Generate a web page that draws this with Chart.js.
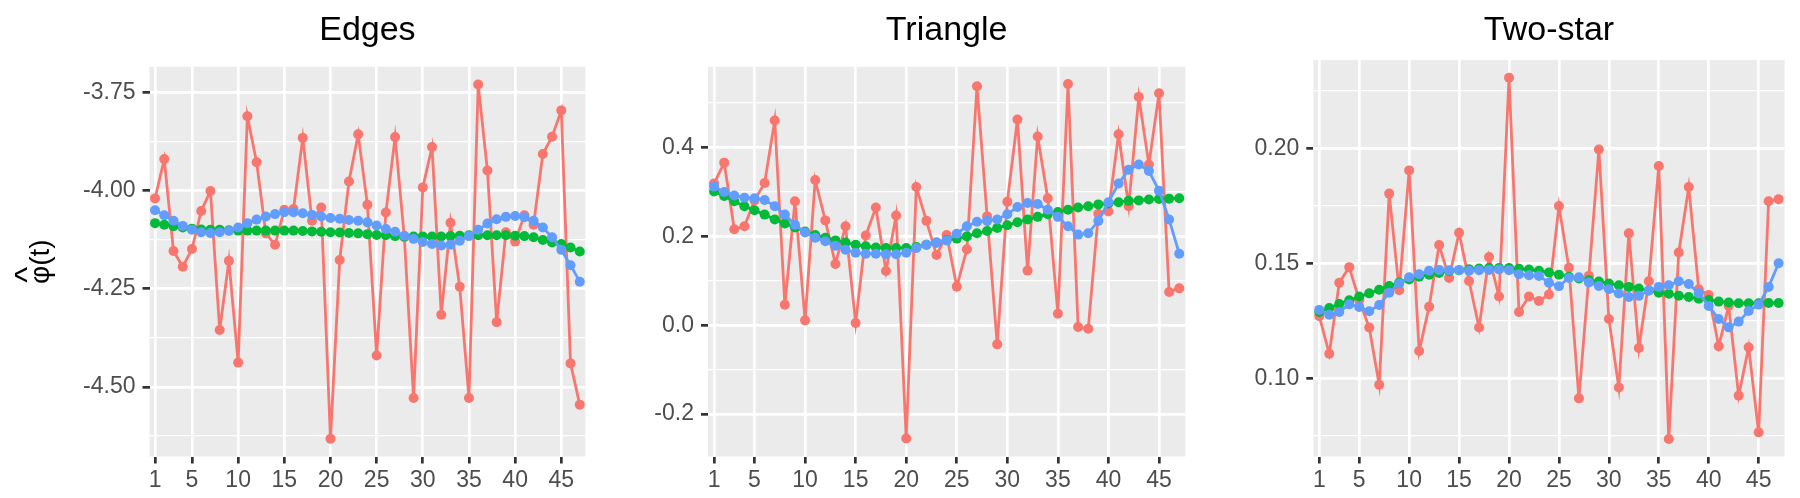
<!DOCTYPE html>
<html>
<head>
<meta charset="utf-8">
<script src="https://cdn.jsdelivr.net/npm/chart.js@4.4.1/dist/chart.umd.min.js"></script>
<style>
  body { margin: 0; background: #fff; }
  #wrap { position: relative; width: 1800px; height: 498px; }
  canvas { position: absolute; top: 0; }
</style>
</head>
<body>
<div id="wrap">
  <canvas id="edges" width="600" height="498" style="left:0px"></canvas>
  <canvas id="triangle" width="600" height="498" style="left:600px"></canvas>
  <canvas id="twostar" width="600" height="498" style="left:1200px"></canvas>
</div>
<script>
// time points 1..47
const timePoints = [1,2,3,4,5,6,7,8,9,10,11,12,13,14,15,16,17,18,19,20,21,22,23,24,25,26,27,28,29,30,31,32,33,34,35,36,37,38,39,40,41,42,43,44,45,46,47];
const xTicks = [1, 5, 10, 15, 20, 25, 30, 35, 40, 45];

// Edges
const edgesRaw = [-4.020,-3.920,-4.154,-4.194,-4.149,-4.052,-4.001,-4.355,-4.179,-4.438,
  -3.811,-3.928,-4.109,-4.138,-4.049,-4.047,-3.866,-4.077,-4.043,-4.632,
  -4.177,-3.977,-3.857,-4.036,-4.420,-4.056,-3.864,-4.119,-4.528,-3.992,
  -3.889,-4.316,-4.082,-4.245,-4.528,-3.730,-3.949,-4.335,-4.106,-4.130,
  -4.063,-4.087,-3.907,-3.863,-3.796,-4.440,-4.545];
const edgesLocal = [-4.050,-4.063,-4.077,-4.090,-4.100,-4.106,-4.108,-4.106,-4.103,-4.094,
  -4.083,-4.074,-4.066,-4.060,-4.055,-4.055,-4.058,-4.062,-4.066,-4.070,
  -4.072,-4.075,-4.077,-4.081,-4.089,-4.098,-4.105,-4.115,-4.123,-4.131,
  -4.136,-4.140,-4.138,-4.128,-4.116,-4.100,-4.084,-4.073,-4.067,-4.065,
  -4.068,-4.077,-4.094,-4.119,-4.151,-4.190,-4.232];
const edgesGlobal = [-4.083,-4.087,-4.091,-4.094,-4.097,-4.099,-4.100,-4.100,-4.101,-4.102,
  -4.102,-4.102,-4.102,-4.102,-4.102,-4.102,-4.103,-4.104,-4.105,-4.106,
  -4.107,-4.108,-4.109,-4.111,-4.113,-4.114,-4.116,-4.117,-4.117,-4.117,
  -4.117,-4.117,-4.116,-4.115,-4.114,-4.114,-4.114,-4.114,-4.114,-4.115,
  -4.116,-4.119,-4.126,-4.132,-4.136,-4.145,-4.155];
const edgesTicks = [-4.50, -4.25, -4.00, -3.75];
const edgesTickLabels = ['-4.50', '-4.25', '-4.00', '-3.75'];
const edgesMinor = [-4.625, -4.375, -4.125, -3.875];

// Triangle
const triRaw = [0.319,0.366,0.216,0.223,0.281,0.320,0.461,0.046,0.279,0.011,
  0.327,0.236,0.138,0.223,0.005,0.202,0.265,0.122,0.247,-0.255,
  0.311,0.235,0.158,0.203,0.087,0.171,0.538,0.245,-0.043,0.278,
  0.463,0.123,0.425,0.286,0.026,0.543,-0.004,-0.008,0.251,0.256,
  0.430,0.268,0.514,0.362,0.522,0.075,0.083];
const triLocal = [0.312,0.300,0.292,0.287,0.286,0.282,0.268,0.249,0.226,0.209,
  0.197,0.189,0.179,0.170,0.163,0.161,0.161,0.160,0.160,0.163,
  0.174,0.181,0.186,0.191,0.206,0.223,0.233,0.235,0.238,0.250,
  0.266,0.275,0.273,0.260,0.244,0.223,0.204,0.207,0.235,0.277,
  0.319,0.350,0.362,0.347,0.303,0.238,0.161];
const triGlobal = [0.301,0.291,0.279,0.268,0.259,0.249,0.238,0.229,0.220,0.211,
  0.203,0.197,0.191,0.186,0.181,0.178,0.175,0.174,0.174,0.174,
  0.176,0.181,0.186,0.192,0.195,0.200,0.207,0.212,0.219,0.225,
  0.232,0.238,0.244,0.250,0.255,0.260,0.265,0.268,0.272,0.274,
  0.277,0.280,0.281,0.283,0.284,0.285,0.286];
const triTicks = [-0.2, 0.0, 0.2, 0.4];
const triTickLabels = ['-0.2', '0.0', '0.2', '0.4'];
const triMinor = [-0.1, 0.1, 0.3, 0.5];

// Two-star
const starRaw = [0.1271,0.1107,0.1416,0.1484,0.1340,0.1221,0.0972,0.1804,0.1384,0.1905,
  0.1119,0.1312,0.1580,0.1437,0.1634,0.1424,0.1221,0.1528,0.1356,0.2308,
  0.1289,0.1356,0.1337,0.1365,0.1750,0.1481,0.0913,0.1446,0.1996,0.1258,
  0.0960,0.1631,0.1132,0.1423,0.1924,0.0736,0.1548,0.1833,0.1388,0.1363,
  0.1140,0.1315,0.0925,0.1135,0.0765,0.1771,0.1780];
const starLocal = [0.1298,0.1277,0.1289,0.1322,0.1311,0.1292,0.1319,0.1373,0.1413,0.1440,
  0.1453,0.1468,0.1472,0.1471,0.1471,0.1468,0.1471,0.1472,0.1474,0.1471,
  0.1453,0.1449,0.1446,0.1416,0.1401,0.1437,0.1440,0.1417,0.1402,0.1388,
  0.1369,0.1354,0.1359,0.1382,0.1398,0.1405,0.1423,0.1411,0.1370,0.1315,
  0.1258,0.1222,0.1247,0.1293,0.1321,0.1398,0.1501];
const starGlobal = [0.1289,0.1306,0.1324,0.1340,0.1356,0.1370,0.1386,0.1402,0.1417,0.1430,
  0.1442,0.1451,0.1459,0.1467,0.1471,0.1475,0.1478,0.1480,0.1480,0.1480,
  0.1477,0.1474,0.1468,0.1461,0.1451,0.1442,0.1435,0.1427,0.1421,0.1413,
  0.1405,0.1398,0.1391,0.1382,0.1373,0.1368,0.1360,0.1354,0.1347,0.1341,
  0.1334,0.1330,0.1327,0.1327,0.1327,0.1328,0.1328];
const starTicks = [0.10, 0.15, 0.20];
const starTickLabels = ['0.10', '0.15', '0.20'];
const starMinor = [0.075, 0.125, 0.175, 0.225];

const FONT = "'Liberation Sans', Arial, Helvetica, sans-serif";
const RED = '#F8766D', GREEN = '#00BA38', BLUE = '#619CFF';

// grey panel background like ggplot
const panelBg = {
  id: 'panelBg',
  beforeDraw(chart) {
    const { ctx, chartArea: a } = chart;
    ctx.save();
    ctx.fillStyle = '#EBEBEB';
    ctx.fillRect(a.left, a.top, a.right - a.left, a.bottom - a.top);
    ctx.restore();
  }
};

// y axis title phi-hat(t), rotated, hat set over the phi
const phiTitle = {
  id: 'phiTitle',
  afterDraw(chart) {
    const a = chart.chartArea;
    const ctx = chart.ctx;
    const cy = (a.top + a.bottom) / 2;
    ctx.save();
    ctx.translate(41, cy);
    ctx.rotate(-Math.PI / 2);
    ctx.fillStyle = '#000';
    ctx.font = "28px " + FONT;
    ctx.textBaseline = 'middle';
    ctx.textAlign = 'left';
    const full = ctx.measureText('\u03C6(t)').width;
    const phiW = ctx.measureText('\u03C6').width;
    ctx.fillText('\u03C6(t)', -full / 2, 0);
    ctx.font = "34px " + FONT;
    ctx.textAlign = 'center';
    ctx.fillText('^', -full / 2 + phiW / 2, -12);
    ctx.restore();
  }
};

function toPoints(values) {
  return values.map((v, i) => ({ x: timePoints[i], y: v }));
}

function series(values, color) {
  return {
    data: toPoints(values),
    borderColor: color,
    backgroundColor: color,
    borderWidth: 2.8,
    pointRadius: 5,
    pointBorderWidth: 0,
    pointBackgroundColor: color,
    tension: 0
  };
}

function makePanel(id, cfg) {
  const majorSet = new Set(cfg.ticks);
  const plugins = [panelBg];
  if (cfg.yTitle) plugins.push(phiTitle);
  new Chart(document.getElementById(id), {
    type: 'line',
    data: {
      datasets: [
        series(cfg.local, BLUE),
        series(cfg.global, GREEN),
        series(cfg.raw, RED)
      ]
    },
    options: {
      responsive: false,
      animation: false,
      devicePixelRatio: 1,
      layout: { padding: { left: 0, right: cfg.padRight, top: 0, bottom: 0 } },
      plugins: {
        legend: { display: false },
        tooltip: { enabled: false },
        title: {
          display: true,
          text: cfg.title,
          color: '#000',
          fullSize: false,
          font: { family: FONT, size: 34, weight: 'normal', lineHeight: 1.2 },
          padding: { top: 10, bottom: cfg.titleBottom }
        }
      },
      scales: {
        x: {
          type: 'linear',
          min: 0.4,
          max: 47.6,
          afterBuildTicks: s => { s.ticks = xTicks.map(v => ({ value: v })); },
          afterFit: s => { s.height = 41.5; },
          border: { display: false },
          grid: {
            color: '#FFFFFF',
            lineWidth: 2.7,
            drawTicks: true,
            tickLength: 7,
            tickColor: '#333333',
            tickWidth: 2.7
          },
          ticks: {
            autoSkip: false,
            maxRotation: 0,
            padding: 3,
            color: '#4D4D4D',
            font: { family: FONT, size: 23 },
            callback: v => String(v)
          }
        },
        y: {
          type: 'linear',
          min: cfg.yMin,
          max: cfg.yMax,
          afterBuildTicks: s => {
            s.ticks = cfg.ticks.concat(cfg.minor).sort((a, b) => a - b).map(v => ({ value: v }));
          },
          afterFit: s => { s.width = cfg.axisWidth; },
          border: { display: false },
          grid: {
            color: '#FFFFFF',
            lineWidth: c => (c.tick && majorSet.has(c.tick.value) ? 2.7 : 1.35),
            drawTicks: true,
            tickLength: 7,
            tickColor: c => (c.tick && majorSet.has(c.tick.value) ? '#333333' : 'rgba(0,0,0,0)'),
            tickWidth: 2.7
          },
          ticks: {
            padding: 7,
            color: '#4D4D4D',
            font: { family: FONT, size: 23 },
            callback: v => {
              const k = cfg.ticks.indexOf(v);
              return k >= 0 ? cfg.tickLabels[k] : '';
            }
          }
        }
      }
    },
    plugins: plugins
  });
}

makePanel('edges', {
  title: 'Edges', raw: edgesRaw, local: edgesLocal, global: edgesGlobal,
  ticks: edgesTicks, tickLabels: edgesTickLabels, minor: edgesMinor,
  yMin: -4.677, yMax: -3.685, axisWidth: 149.5, padRight: 14.7, titleBottom: 16,
  yTitle: true
});
makePanel('triangle', {
  title: 'Triangle', raw: triRaw, local: triLocal, global: triGlobal,
  ticks: triTicks, tickLabels: triTickLabels, minor: triMinor,
  yMin: -0.2954, yMax: 0.5817, axisWidth: 108, padRight: 14.7, titleBottom: 16
});
makePanel('twostar', {
  title: 'Two-star', raw: starRaw, local: starLocal, global: starGlobal,
  ticks: starTicks, tickLabels: starTickLabels, minor: starMinor,
  yMin: 0.0660, yMax: 0.2385, axisWidth: 113.3, padRight: 15.4, titleBottom: 9.3
});
</script>
</body>
</html>
